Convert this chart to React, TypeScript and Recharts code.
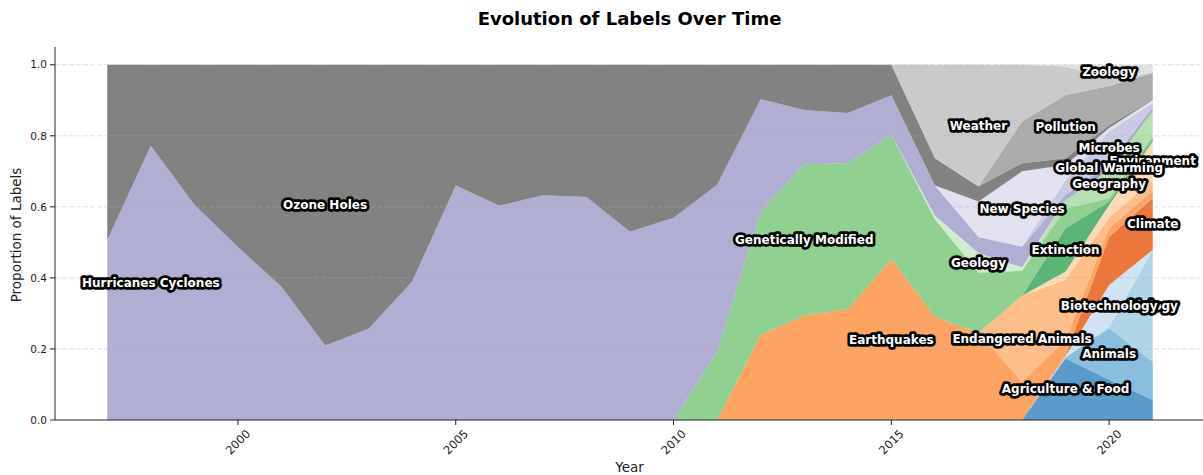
import * as React from 'react'
import { Area, AreaChart, ReferenceDot, ReferenceLine, XAxis, YAxis } from 'recharts'

const years = [
  1997, 1998, 1999, 2000, 2001, 2002, 2003, 2004, 2005, 2006, 2007, 2008, 2009,
  2010, 2011, 2012, 2013, 2014, 2015, 2016, 2017, 2018, 2019, 2020, 2021,
]

// share of each label per year, alphabetical stack order
const agricultureFood = [0, 0, 0, 0, 0, 0, 0, 0, 0, 0, 0, 0, 0, 0, 0, 0, 0, 0, 0, 0, 0, 0, 0.174, 0.113, 0.056]
const animals = [0, 0, 0, 0, 0, 0, 0, 0, 0, 0, 0, 0, 0, 0, 0, 0, 0, 0, 0, 0, 0, 0, 0.002, 0.145, 0.108]
const biology = [0, 0, 0, 0, 0, 0, 0, 0, 0, 0, 0, 0, 0, 0, 0, 0, 0, 0, 0, 0, 0, 0, 0.002, 0.004, 0.315]
const biotechnology = [0, 0, 0, 0, 0, 0, 0, 0, 0, 0, 0, 0, 0, 0, 0, 0, 0, 0, 0, 0, 0, 0, 0.002, 0.118, 0]
const climate = [0, 0, 0, 0, 0, 0, 0, 0, 0, 0, 0, 0, 0, 0, 0, 0, 0, 0, 0, 0, 0, 0, 0.002, 0.135, 0.146]
const earthquakes = [0, 0, 0, 0, 0, 0, 0, 0, 0, 0, 0, 0, 0, 0, 0, 0.239, 0.294, 0.312, 0.453, 0.291, 0.245, 0.108, 0.043, 0.025, 0.02]
const endangeredAnimals = [0, 0, 0, 0, 0, 0, 0, 0, 0, 0, 0, 0, 0, 0, 0, 0, 0, 0, 0, 0, 0, 0.242, 0.17, 0.03, 0.03]
const environment = [0, 0, 0, 0, 0, 0, 0, 0, 0, 0, 0, 0, 0, 0, 0, 0, 0, 0, 0, 0, 0, 0, 0.023, 0.035, 0.11]
const extinction = [0, 0, 0, 0, 0, 0, 0, 0, 0, 0, 0, 0, 0, 0, 0, 0, 0, 0, 0, 0, 0, 0, 0.122, 0.01, 0.007]
const geneticallyModified = [0, 0, 0, 0, 0, 0, 0, 0, 0, 0, 0, 0, 0, 0, 0.192, 0.348, 0.426, 0.411, 0.35, 0.274, 0.17, 0.07, 0.055, 0.01, 0.008]
const geography = [0, 0, 0, 0, 0, 0, 0, 0, 0, 0, 0, 0, 0, 0, 0, 0, 0, 0, 0, 0, 0, 0, 0.025, 0.08, 0.073]
const geology = [0, 0, 0, 0, 0, 0, 0, 0, 0, 0, 0, 0, 0, 0, 0, 0, 0, 0, 0, 0.01, 0.055, 0.01, 0, 0, 0]
const globalWarming = [0, 0, 0, 0, 0, 0, 0, 0, 0, 0, 0, 0, 0, 0, 0, 0, 0, 0, 0, 0, 0, 0, 0.003, 0.006, 0.003]
const hurricanesCyclones = [0.507, 0.772, 0.606, 0.487, 0.375, 0.21, 0.257, 0.39, 0.66, 0.603, 0.633, 0.628, 0.53, 0.569, 0.47, 0.316, 0.153, 0.141, 0.111, 0.085, 0.045, 0.058, 0.012, 0.009, 0.006]
const microbes = [0, 0, 0, 0, 0, 0, 0, 0, 0, 0, 0, 0, 0, 0, 0, 0, 0, 0, 0, 0, 0, 0, 0.04, 0.092, 0.011]
const newSpecies = [0, 0, 0, 0, 0, 0, 0, 0, 0, 0, 0, 0, 0, 0, 0, 0, 0, 0, 0, 0, 0.1, 0.212, 0.043, 0.01, 0.008]
const ozoneHoles = [0.493, 0.228, 0.394, 0.513, 0.625, 0.79, 0.743, 0.61, 0.34, 0.397, 0.367, 0.372, 0.47, 0.431, 0.338, 0.097, 0.127, 0.136, 0.086, 0.077, 0.042, 0.023, 0.019, 0.008, 0.002]
const pollution = [0, 0, 0, 0, 0, 0, 0, 0, 0, 0, 0, 0, 0, 0, 0, 0, 0, 0, 0, 0, 0, 0.117, 0.178, 0.11, 0.074]
const weather = [0, 0, 0, 0, 0, 0, 0, 0, 0, 0, 0, 0, 0, 0, 0, 0, 0, 0, 0, 0.263, 0.343, 0.16, 0.08, 0.02, 0.001]
const zoology = [0, 0, 0, 0, 0, 0, 0, 0, 0, 0, 0, 0, 0, 0, 0, 0, 0, 0, 0, 0, 0, 0, 0.005, 0.04, 0.022]

const xTicks = [2000, 2005, 2010, 2015, 2020]
const yTicks = [0, 0.2, 0.4, 0.6, 0.8, 1.0]

// tab20c
const series = [
  { key: 's0', name: 'Agriculture & Food', values: agricultureFood, color: '#3182bd' },
  { key: 's1', name: 'Animals', values: animals, color: '#6baed6' },
  { key: 's2', name: 'Biology', values: biology, color: '#9ecae1' },
  { key: 's3', name: 'Biotechnology', values: biotechnology, color: '#c6dbef' },
  { key: 's4', name: 'Climate', values: climate, color: '#e6550d' },
  { key: 's5', name: 'Earthquakes', values: earthquakes, color: '#fd8d3c' },
  { key: 's6', name: 'Endangered Animals', values: endangeredAnimals, color: '#fdae6b' },
  { key: 's7', name: 'Environment', values: environment, color: '#fdd0a2' },
  { key: 's8', name: 'Extinction', values: extinction, color: '#31a354' },
  { key: 's9', name: 'Genetically Modified', values: geneticallyModified, color: '#74c476' },
  { key: 's10', name: 'Geography', values: geography, color: '#a1d99b' },
  { key: 's11', name: 'Geology', values: geology, color: '#c7e9c0' },
  { key: 's12', name: 'Global Warming', values: globalWarming, color: '#756bb1' },
  { key: 's13', name: 'Hurricanes Cyclones', values: hurricanesCyclones, color: '#9e9ac8' },
  { key: 's14', name: 'Microbes', values: microbes, color: '#bcbddc' },
  { key: 's15', name: 'New Species', values: newSpecies, color: '#dadaeb' },
  { key: 's16', name: 'Ozone Holes', values: ozoneHoles, color: '#636363' },
  { key: 's17', name: 'Pollution', values: pollution, color: '#969696' },
  { key: 's18', name: 'Weather', values: weather, color: '#bdbdbd' },
  { key: 's19', name: 'Zoology', values: zoology, color: '#d9d9d9' },
]

const data = years.map((year, i) => {
  const row: Record<string, number> = { year }
  series.forEach((s) => {
    row[s.key] = s.values[i]
  })
  return row
})

// label each band at its peak year, in the middle of the band
const labels = series.map((s, si) => {
  let best = 0
  s.values.forEach((v, i) => {
    if (v > s.values[best]) best = i
  })
  let below = 0
  for (let k = 0; k < si; k++) below += series[k].values[best]
  return { name: s.name, year: years[best], y: below + s.values[best] / 2 }
})

const FONT = '"DejaVu Sans", sans-serif'

function XTick(props: any) {
  const { x, y, payload } = props
  const cy = y + 15
  return (
    <text
      x={x}
      y={cy}
      textAnchor="middle"
      dominantBaseline="central"
      transform={`rotate(-45 ${x} ${cy})`}
      fontSize={11.5}
      fontFamily={FONT}
      fill="#222"
    >
      {payload.value}
    </text>
  )
}

const bandLabel = (text: string) => (props: any) => (
  <text
    x={props.cx}
    y={props.cy}
    textAnchor="middle"
    dominantBaseline="central"
    fontSize={12}
    fontWeight="bold"
    fontFamily={FONT}
    fill="#fff"
    stroke="#000"
    strokeWidth={5.5}
    strokeLinejoin="round"
    style={{ paintOrder: 'stroke' }}
  >
    {text}
  </text>
)

export default function App() {
  return (
    <div
      style={{
        position: 'absolute',
        left: 0,
        top: 0,
        width: 1203,
        height: 475,
        overflow: 'hidden',
        background: '#fff',
        fontFamily: FONT,
      }}
    >
      <AreaChart width={1206} height={475} data={data} margin={{ top: 47, right: 1, bottom: 0, left: 0 }}>
        <XAxis
          dataKey="year"
          type="number"
          domain={[1995.8, 2022.2]}
          ticks={xTicks}
          allowDataOverflow
          height={55}
          tickSize={5}
          stroke="#222"
          tick={<XTick />}
        />
        <YAxis
          type="number"
          domain={[0, 1.05]}
          ticks={yTicks}
          allowDataOverflow
          width={55}
          tickSize={5}
          tickMargin={3}
          stroke="#222"
          tickFormatter={(v: number) => v.toFixed(1)}
          tick={{ fontSize: 10.5, fontFamily: FONT, fill: '#222' }}
        />
        {series.map((s) => (
          <Area
            key={s.key}
            dataKey={s.key}
            name={s.name}
            type="linear"
            stackId="1"
            stroke="none"
            fill={s.color}
            fillOpacity={0.8}
            isAnimationActive={false}
            activeDot={false}
          />
        ))}
        {yTicks.slice(1).map((t) => (
          <ReferenceLine key={t} y={t} stroke="#b0b0b0" strokeOpacity={0.5} strokeDasharray="5 2" strokeWidth={0.8} />
        ))}
        {labels.map((l) => (
          <ReferenceDot key={l.name} x={l.year} y={l.y} r={0} ifOverflow="visible" shape={bandLabel(l.name)} />
        ))}
      </AreaChart>
      <div
        style={{
          position: 'absolute',
          left: 629.5,
          top: 9.5,
          transform: 'translateX(-50%)',
          whiteSpace: 'nowrap',
          fontSize: 18,
          lineHeight: '18px',
          fontWeight: 'bold',
          color: '#000',
        }}
      >
        Evolution of Labels Over Time
      </div>
      <div
        style={{
          position: 'absolute',
          left: 629.5,
          top: 461,
          transform: 'translateX(-50%)',
          whiteSpace: 'nowrap',
          fontSize: 13.5,
          lineHeight: '13.5px',
          color: '#222',
        }}
      >
        Year
      </div>
      <div
        style={{
          position: 'absolute',
          left: 17,
          top: 234.5,
          transform: 'translate(-50%, -50%) rotate(-90deg)',
          whiteSpace: 'nowrap',
          fontSize: 13.5,
          lineHeight: '13.5px',
          color: '#222',
        }}
      >
        Proportion of Labels
      </div>
    </div>
  )
}
